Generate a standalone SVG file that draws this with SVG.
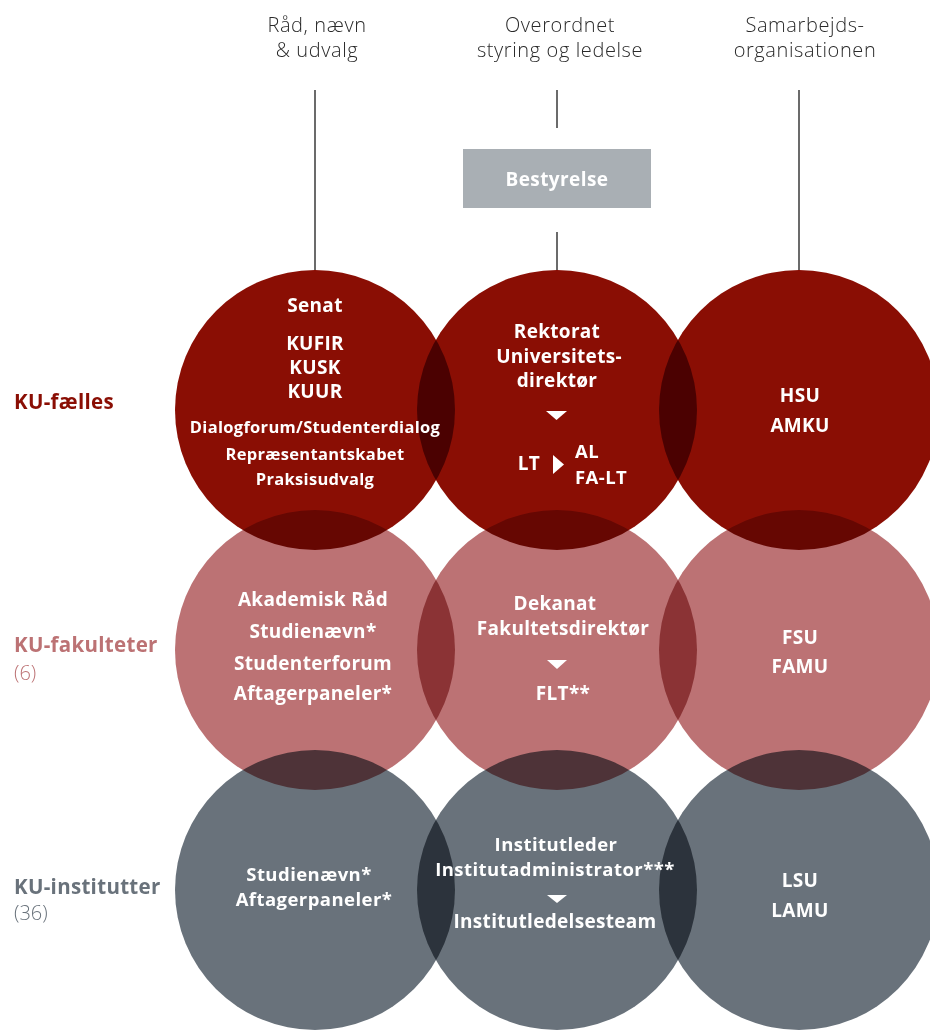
<svg xmlns="http://www.w3.org/2000/svg" width="930" height="1030" viewBox="0 0 930 1030">
<style>
.c{mix-blend-mode:multiply}
.r1{fill:#8a0e04}
.r2{fill:#bc7274}
.r3{fill:#69727b}
.t{font-family:"Open Sans","Liberation Sans",sans-serif;font-weight:700;fill:#fff;text-anchor:middle;letter-spacing:0.3px}
.big{font-size:19px}
.mid{font-size:18.5px;letter-spacing:0.45px}
.sm{font-size:16.5px}
.hd{font-family:"Open Sans","Liberation Sans",sans-serif;font-weight:300;font-size:20px;fill:#2a2a2a;text-anchor:middle;letter-spacing:0.6px}
.lb{font-family:"Open Sans","Liberation Sans",sans-serif;font-weight:700;font-size:20.5px;letter-spacing:0.3px}
.lc{font-family:"Open Sans","Liberation Sans",sans-serif;font-weight:300;font-size:20px}
.ln{stroke:#3a3a3a;stroke-width:1.5;fill:none}
.tri{fill:#fff}
</style>
<rect width="930" height="1030" fill="#fff"/>
<g id="headers">
<text class="hd" x="317" y="32">Råd, nævn</text>
<text class="hd" x="317" y="57">&amp; udvalg</text>
<text class="hd" x="560" y="32">Overordnet</text>
<text class="hd" x="560" y="57">styring og ledelse</text>
<text class="hd" x="805" y="32">Samarbejds-</text>
<text class="hd" x="805" y="57">organisationen</text>
</g>
<g id="connectors">
<line class="ln" x1="315" y1="90" x2="315" y2="270"/>
<line class="ln" x1="557" y1="90" x2="557" y2="128"/>
<line class="ln" x1="557" y1="232" x2="557" y2="270"/>
<line class="ln" x1="799" y1="90" x2="799" y2="270"/>
</g>
<g id="bestyrelse">
<rect x="463" y="149" width="188" height="59" fill="#a9afb4"/>
<text class="t" x="557" y="186" style="font-size:19px;letter-spacing:0.4px">Bestyrelse</text>
</g>
<g id="circles">
<circle id="c-raad-faelles" class="c r1" cx="315" cy="410" r="140"/>
<circle id="c-ledelse-faelles" class="c r1" cx="557" cy="410" r="140"/>
<circle id="c-samarbejde-faelles" class="c r1" cx="799" cy="410" r="140"/>
<circle id="c-raad-fakultet" class="c r2" cx="315" cy="650" r="140"/>
<circle id="c-ledelse-fakultet" class="c r2" cx="557" cy="650" r="140"/>
<circle id="c-samarbejde-fakultet" class="c r2" cx="799" cy="650" r="140"/>
<circle id="c-raad-institut" class="c r3" cx="315" cy="890" r="140"/>
<circle id="c-ledelse-institut" class="c r3" cx="557" cy="890" r="140"/>
<circle id="c-samarbejde-institut" class="c r3" cx="799" cy="890" r="140"/>
</g>
<g id="row-labels">
<text class="lb" x="14" y="409" fill="#8a0e04">KU-fælles</text>
<text class="lb" x="14" y="652" fill="#bc7274">KU-fakulteter</text>
<text class="lc" x="14" y="680" fill="#bc7274">(6)</text>
<text class="lb" x="14" y="894" fill="#69727b">KU-institutter</text>
<text class="lc" x="14" y="920" fill="#69727b">(36)</text>
</g>
<g id="node-raad-faelles">
<text class="t big" x="315" y="312">Senat</text>
<text class="t big" x="315" y="350">KUFIR</text>
<text class="t big" x="315" y="374">KUSK</text>
<text class="t big" x="315" y="398">KUUR</text>
<text class="t sm" x="315" y="433">Dialogforum/Studenterdialog</text>
<text class="t sm" x="315" y="460">Repræsentantskabet</text>
<text class="t sm" x="315" y="485">Praksisudvalg</text>
</g>
<g id="node-ledelse-faelles">
<text class="t big" x="557" y="338">Rektorat</text>
<text class="t big" x="559" y="363">Universitets-</text>
<text class="t big" x="557" y="387">direktør</text>
<polygon class="tri" points="546,411 567,411 556.5,420"/>
<text class="t big" x="540" y="470" style="text-anchor:end">LT</text>
<polygon class="tri" points="553,455 564,464.5 553,474"/>
<text class="t mid" x="575" y="458" style="text-anchor:start">AL</text>
<text class="t mid" x="575" y="484" style="text-anchor:start">FA-LT</text>
</g>
<g id="node-samarbejde-faelles">
<text class="t big" x="800" y="402">HSU</text>
<text class="t big" x="800" y="432">AMKU</text>
</g>
<g id="node-raad-fakultet">
<text class="t big" x="313" y="606">Akademisk Råd</text>
<text class="t big" x="313" y="638">Studienævn*</text>
<text class="t big" x="313" y="670">Studenterforum</text>
<text class="t big" x="313" y="700">Aftagerpaneler*</text>
</g>
<g id="node-ledelse-fakultet">
<text class="t big" x="555" y="610">Dekanat</text>
<text class="t big" x="563" y="635">Fakultetsdirektør</text>
<polygon class="tri" points="547,660 567,660 557,669"/>
<text class="t big" x="563" y="700">FLT**</text>
</g>
<g id="node-samarbejde-fakultet">
<text class="t big" x="800" y="644">FSU</text>
<text class="t big" x="800" y="673">FAMU</text>
</g>
<g id="node-raad-institut">
<text class="t mid" x="309" y="881">Studienævn*</text>
<text class="t mid" x="314" y="906">Aftagerpaneler*</text>
</g>
<g id="node-ledelse-institut">
<text class="t mid" x="556" y="851">Institutleder</text>
<text class="t mid" x="555" y="876">Institutadministrator***</text>
<polygon class="tri" points="547,895 567,895 557,903"/>
<text class="t big" x="555" y="928">Institutledelsesteam</text>
</g>
<g id="node-samarbejde-institut">
<text class="t big" x="800" y="887">LSU</text>
<text class="t big" x="800" y="917">LAMU</text>
</g>
</svg>
